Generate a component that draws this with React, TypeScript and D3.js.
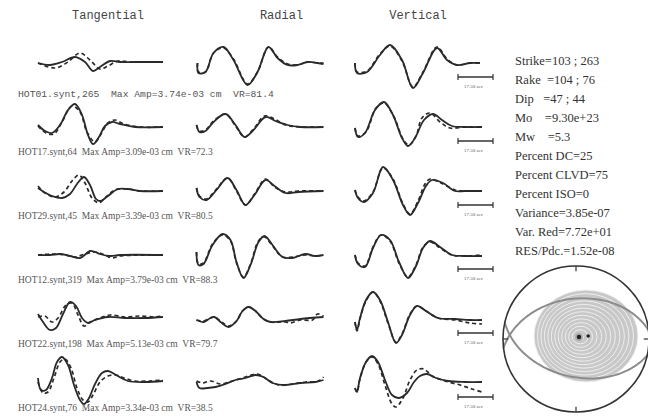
import React from 'react';
import * as d3 from 'd3';

type Pt = [number, number];

// ---- labels / metadata ----
const components = ['Tangential', 'Radial', 'Vertical'];
const stations = ['HOT01', 'HOT17', 'HOT29', 'HOT12', 'HOT22', 'HOT24'];
const azimuths = [265, 64, 45, 319, 198, 76];
const maxAmps = ['3.74e-03', '3.09e-03', '3.39e-03', '3.79e-03', '5.13e-03', '3.34e-03'];
const varReductions = [81.4, 72.3, 80.5, 88.3, 79.7, 38.5];
const scaleBarSec = 17.5;

const solutionLines = [
  'Strike=103 ; 263',
  'Rake  =104 ; 76',
  'Dip   =47 ; 44',
  'Mo    =9.30e+23',
  'Mw    =5.3',
  'Percent DC=25',
  'Percent CLVD=75',
  'Percent ISO=0',
  'Variance=3.85e-07',
  'Var. Red=7.72e+01',
  'RES/Pdc.=1.52e-08',
];

// nodal planes: [strike, dip]
const nodalPlanes: Pt[] = [[103, 47], [263, 44]];
// principal axes: [plunge, azimuth]
const axisPoints: Pt[] = [[86, 56], [76, 76]];
const shadeLevels = 13;

// ---- waveforms: [time s, amplitude] ----
// HOT01
const hot01TanObs: Pt[] = [[0, 0], [6, -0.2], [12, 0.1], [18.5, 0.6], [23.5, 0.1], [27.5, -0.8], [31, -0.4], [36, 0.2], [41, 0.1], [48.5, 0.1], [56, 0.1], [62.5, 0.1]];
const hot01TanSyn: Pt[] = [[0, 0], [8.5, -0.5], [15, 0.1], [21, 1.0], [26, 0.3], [31, -0.6], [35, -0.3], [40, 0.2], [46, 0.1], [53.5, 0.1], [62.5, 0.1]];
const hot01RadObs: Pt[] = [[0.5, 0], [1, -1.0], [4.5, -0.9], [8.5, 1.0], [13.5, 1.6], [18.5, 0.3], [25.5, -2.2], [30.5, -0.9], [36, 1.6], [40.5, 0.5], [45.5, -0.2], [50.5, -0.2], [55.5, 0.1], [60.5, 0], [63.5, -0.1]];
const hot01RadSyn: Pt[] = [[0.5, 0], [1, -0.9], [4.5, -0.9], [8.5, 1.0], [13.5, 1.5], [18.5, 0.4], [25.5, -2.1], [30.5, -0.9], [36, 1.6], [40.5, 0.6], [45.5, -0.1], [50.5, -0.2], [55.5, 0.1], [60.5, 0], [63.5, 0]];
const hot01VerObs: Pt[] = [[0, 0], [1, -1.0], [6, -0.9], [12.5, 0.8], [17.5, 1.8], [23.5, 0.3], [29, -2.5], [34, -1.0], [41, 1.5], [46, 0.3], [51, -0.2], [57.5, 0], [62.5, 0]];
const hot01VerSyn: Pt[] = [[0, 0], [1, -0.9], [6, -0.8], [12.5, 0.9], [17.5, 1.7], [23.5, 0.2], [29, -2.4], [34, -0.9], [41, 1.6], [46, 0.4], [51, -0.2], [57.5, 0], [62.5, 0]];
// HOT17
const hot17TanObs: Pt[] = [[0, 0.2], [3.5, -0.4], [7, -0.6], [11, 0.2], [15, 1.7], [18.5, 2.3], [22, 1.2], [25, -0.8], [27.5, -1.7], [30.5, -1.0], [33.5, 0.1], [37, 0.5], [41, 0.3], [48.5, 0], [62.5, 0]];
const hot17TanSyn: Pt[] = [[0, 0.1], [4, -0.6], [8, -0.7], [12, 0.5], [17, 2.1], [21, 1.5], [24.5, -0.5], [28.5, -1.5], [31.5, -0.7], [35, 0.4], [38.5, 0.7], [43, 0.3], [51, 0], [62.5, 0]];
const hot17RadObs: Pt[] = [[0, 0.2], [1.5, -0.5], [4.5, -0.4], [8.5, 0.5], [14.5, 1.3], [19.5, 0.2], [24, -1.0], [28.5, -0.3], [34.5, 1.0], [39.5, 0.6], [45.5, 0.2], [52, 0], [63.5, 0]];
const hot17RadSyn: Pt[] = [[0, 0.2], [1.5, -0.4], [4.5, -0.3], [8.5, 0.6], [14.5, 1.3], [19.5, 0.1], [24, -1.0], [28.5, -0.2], [34, 1.1], [39, 0.8], [44.5, 0.2], [52, 0], [63.5, 0]];
const hot17VerObs: Pt[] = [[0, -0.1], [1.5, -1.0], [5, -0.6], [10, 1.7], [14.5, 2.5], [19, 1.2], [23.5, -1.1], [26.5, -1.9], [30, -1.1], [34.5, 0.7], [39, 1.3], [43.5, 0.7], [48.5, 0.1], [55, 0], [63.5, 0]];
const hot17VerSyn: Pt[] = [[0, -0.1], [1.5, -0.9], [5.5, -0.5], [10.5, 1.9], [14.5, 2.4], [19.5, 1.0], [24, -1.2], [27, -1.8], [30.5, -0.9], [33.5, 0.9], [37.5, 1.4], [42.5, 0.5], [47.5, -0.1], [55, 0], [63.5, 0]];
// HOT29
const hot29TanObs: Pt[] = [[0, 0.3], [3, -0.1], [7, -0.5], [12, -0.7], [16, -0.3], [19.5, 0.7], [23, 1.4], [26, 0.6], [29, -0.8], [31, -1.0], [35, -0.5], [40, 0.2], [45, 0.2], [51, 0], [62.5, 0]];
const hot29TanSyn: Pt[] = [[0, 0.5], [3.5, -0.2], [8.5, -0.6], [13, -0.1], [17, 1.0], [20.5, 1.6], [23.5, 0.8], [27, -0.7], [30.5, -1.2], [34, -0.6], [38.5, 0.1], [45, 0.2], [51, 0], [62.5, 0]];
const hot29RadObs: Pt[] = [[0, 0.3], [1.5, -0.6], [5, -0.9], [10, 0.1], [15.5, 1.3], [20, 0.1], [24.5, -1.4], [29, -0.4], [34.5, 1.1], [39, 0.5], [44.5, -0.2], [51, -0.1], [63.5, 0]];
const hot29RadSyn: Pt[] = [[0, 0.3], [1.5, -0.5], [5, -0.8], [10, 0.2], [15.5, 1.3], [20, 0.0], [24.5, -1.4], [29, -0.3], [34.5, 1.2], [39, 0.4], [44.5, -0.1], [51, 0], [63.5, 0]];
const hot29VerObs: Pt[] = [[0, 0.1], [1.5, -0.7], [4.5, -1.1], [9, -0.2], [14, 2.4], [19, 1.1], [24, -1.4], [27.5, -2.4], [31.5, -1.2], [35.5, 0.5], [38.5, 1.1], [44, 0.8], [50, 0], [55, 0], [63.5, 0]];
const hot29VerSyn: Pt[] = [[0, 0.1], [1.5, -0.6], [4.5, -1.0], [9, -0.1], [14, 2.3], [19, 1.2], [24, -1.3], [27.5, -2.3], [31.5, -1.0], [35, 0.7], [37.5, 1.2], [43, 0.8], [50, 0.1], [55, 0], [63.5, 0]];
// HOT12
const hot12TanObs: Pt[] = [[0, 0], [6, 0], [11, 0.1], [16, -0.1], [21, -0.3], [26, 0.4], [28.5, 0.3], [31, 0.1], [36, -0.1], [41, 0], [62.5, 0]];
const hot12TanSyn: Pt[] = [[0, 0], [8.5, 0.1], [13.5, 0], [18.5, -0.2], [23.5, 0.1], [28.5, 0.3], [33.5, 0], [37, -0.3], [41, -0.1], [62.5, 0]];
const hot12RadObs: Pt[] = [[0, 0.3], [1, -1.0], [3.5, -0.9], [8, 1.0], [13, 2.1], [17, 1.5], [20, -0.7], [23.5, -2.3], [27, -1.0], [31, 1.3], [34, 1.9], [38, 1.0], [43, -0.2], [48, -0.3], [54.5, 0.1], [59.5, -0.1], [63.5, 0]];
const hot12RadSyn: Pt[] = [[0, 0.3], [1, -0.9], [3.5, -0.8], [8, 1.1], [13, 2.0], [17, 1.4], [20, -0.8], [23.5, -2.2], [27, -0.9], [31, 1.4], [34, 1.8], [38, 0.9], [43, -0.2], [48, -0.2], [54.5, 0], [59.5, -0.1], [63.5, 0]];
const hot12VerObs: Pt[] = [[0, 0], [1.5, -0.9], [5, -1.2], [9, 0.7], [13, 2.0], [17.5, 1.5], [22, -0.7], [26.5, -2.3], [30.5, -1.1], [34, 0.7], [37.5, 1.4], [42.5, 0.8], [48.5, 0], [55, -0.1], [63.5, -0.1]];
const hot12VerSyn: Pt[] = [[0, 0], [1.5, -0.8], [5, -1.1], [9, 0.8], [13, 2.0], [17.5, 1.4], [22, -0.8], [26.5, -2.2], [30.5, -1.0], [34, 0.8], [37.5, 1.3], [42.5, 0.7], [48.5, 0], [55, -0.1], [63.5, 0]];
// HOT22
const hot22TanObs: Pt[] = [[0, 0.5], [2.5, -0.3], [6, -1.1], [9, -0.9], [12.5, 0.5], [16, 1.7], [19, 1.3], [22, 0.1], [25, -0.4], [28.5, -0.1], [35, 0.2], [43.5, 0.1], [53.5, 0.1], [62.5, 0.2]];
const hot22TanSyn: Pt[] = [[0, 0.2], [3.5, 0.3], [7, -0.3], [10, 0.1], [14, 1.4], [17, 1.6], [20, 0.4], [23, -0.7], [26, -0.3], [31, 0.1], [36, 0.4], [43.5, 0.2], [51, 0.3], [58.5, 0.2], [62.5, 0.3]];
const hot22RadObs: Pt[] = [[0, -0.1], [3.5, -0.3], [7, 0.1], [9, 0.2], [12, -0.3], [16, -0.8], [20, -0.2], [23, 0.8], [26, 1.2], [29.5, 0.8], [33.5, 0], [37, -0.3], [44.5, -0.2], [52, 0], [63.5, 0.2]];
const hot22RadSyn: Pt[] = [[0, -0.1], [3.5, -0.2], [7, 0.1], [9, 0.2], [12, -0.2], [16, -0.7], [20, -0.2], [23, 0.8], [26, 1.2], [29.5, 0.8], [33.5, 0], [37, -0.3], [44.5, -0.3], [47, -0.4], [52, -0.1], [58, -0.1], [60.5, 0.5], [63.5, 0.3]];
const hot22VerObs: Pt[] = [[0, -0.3], [1, -1.1], [2.5, 0.1], [5.5, 1.9], [9, 2.7], [12.5, 1.9], [16.5, -0.3], [20.5, -2.4], [23.5, -1.6], [27.5, 0.4], [31, 1.3], [35.5, 0.8], [41.5, 0.1], [50, 0], [57.5, -0.1], [63.5, -0.1]];
const hot22VerSyn: Pt[] = [[0, -0.3], [1, -1.2], [2.5, 0.0], [5.5, 1.8], [9, 2.7], [12.5, 1.8], [16.5, -0.4], [20.5, -2.3], [23.5, -1.5], [27.5, 0.5], [31, 1.3], [35.5, 0.8], [41.5, 0.1], [50, -0.1], [57.5, -0.4], [63.5, -0.5]];
// HOT24
const hot24TanObs: Pt[] = [[0, 0.5], [1.5, -0.7], [4, -0.7], [7, 0.5], [9.5, 2.1], [12, 2.6], [15, 1.8], [18, -0.2], [21, -1.7], [23, -2.1], [25.5, -1.5], [28.5, -0.1], [32, 1.0], [35, 1.2], [39, 0.8], [45, 0.2], [53.5, 0.1], [62.5, 0.2]];
const hot24TanSyn: Pt[] = [[0, 0.1], [2.5, -1.0], [5, -0.9], [8, 0.5], [11, 2.1], [13.5, 2.4], [16.5, 1.5], [19.5, -0.5], [22.5, -1.7], [25, -1.9], [27.5, -1.2], [31, 0.1], [35, 0.7], [39, 0.8], [43, 0.5], [48.5, 0.2], [56, 0.2], [62.5, 0.3]];
const hot24RadObs: Pt[] = [[0, 0.1], [1.5, -0.5], [5.5, -0.5], [9.5, -0.4], [14.5, -0.1], [19.5, 0.3], [24.5, 0.5], [29.5, 0.8], [33.5, 0.6], [38, 0], [44.5, -0.2], [52, 0], [59.5, 0.1], [63.5, 0.3]];
const hot24RadSyn: Pt[] = [[0, 0.2], [3, 0], [7, 0.2], [12, -0.1], [18, 0.2], [24.5, 0.6], [30.5, 0.9], [35, 0.4], [41, -0.2], [48, -0.1], [54.5, 0.1], [61, 0.2], [63.5, 0.6]];
const hot24VerObs: Pt[] = [[0, -0.5], [1, -0.9], [2.5, 0.5], [5.5, 2.1], [8.5, 2.7], [11.5, 2.1], [15, 0.3], [18.5, -1.2], [22, -1.5], [26, -1.0], [29.5, 0.1], [32.5, 0.7], [36, 0.9], [40.5, 0.5], [46.5, 0.2], [55, 0.1], [63.5, 0.1]];
const hot24VerSyn: Pt[] = [[0, -0.5], [1, -0.9], [2.5, 0.4], [5.5, 2.1], [8.5, 2.6], [11.5, 1.9], [15, -0.2], [18.5, -2.1], [20.5, -2.4], [24, -1.5], [27.5, 0.3], [31, 1.3], [34.5, 1.4], [38.5, 0.7], [45, 0.2], [52.5, -0.2], [58.5, -0.6], [63.5, -0.9]];

const observed: Pt[][][] = [
  [hot01TanObs, hot01RadObs, hot01VerObs],
  [hot17TanObs, hot17RadObs, hot17VerObs],
  [hot29TanObs, hot29RadObs, hot29VerObs],
  [hot12TanObs, hot12RadObs, hot12VerObs],
  [hot22TanObs, hot22RadObs, hot22VerObs],
  [hot24TanObs, hot24RadObs, hot24VerObs],
];
const synthetic: Pt[][][] = [
  [hot01TanSyn, hot01RadSyn, hot01VerSyn],
  [hot17TanSyn, hot17RadSyn, hot17VerSyn],
  [hot29TanSyn, hot29RadSyn, hot29VerSyn],
  [hot12TanSyn, hot12RadSyn, hot12VerSyn],
  [hot22TanSyn, hot22RadSyn, hot22VerSyn],
  [hot24TanSyn, hot24RadSyn, hot24VerSyn],
];

const W = 648;
const H = 419;
const MONO = '"Liberation Mono", "DejaVu Sans Mono", monospace';
const SERIF = '"Liberation Serif", "DejaVu Serif", serif';
const INK = '#2a2a2a';

export default function App() {
  const colX = d3.scaleLinear().domain([0, 2]).range([38, 355]);
  const rowY = d3.scaleLinear().domain([0, 5]).range([63, 383]);
  const t = d3.scaleLinear().domain([0, 63.5]).range([0, 127]);
  const amp = d3.scaleLinear().domain([-1, 1]).range([10, -10]);

  const line = d3
    .line<Pt>()
    .x((d) => t(d[0]))
    .y((d) => amp(d[1]))
    .curve(d3.curveCatmullRom.alpha(0.5));

  // focal sphere (lower hemisphere, equal-area)
  const bb = { cx: 576, cy: 339, r: 73 };
  const rad = Math.PI / 180;
  const project = (plunge: number, az: number): Pt => {
    const rr = bb.r * Math.SQRT2 * Math.sin(((90 - plunge) * rad) / 2);
    return [bb.cx + rr * Math.sin(az * rad), bb.cy - rr * Math.cos(az * rad)];
  };
  const planePath = (strike: number, dip: number) => {
    const s = strike * rad;
    const dd = (strike + 90) * rad;
    const dp = dip * rad;
    const sv = [Math.cos(s), Math.sin(s), 0];
    const dv = [Math.cos(dd) * Math.cos(dp), Math.sin(dd) * Math.cos(dp), Math.sin(dp)];
    const pts: Pt[] = d3.range(0, 181, 2).map((deg) => {
      const th = deg * rad;
      const n = Math.cos(th) * sv[0] + Math.sin(th) * dv[0];
      const e = Math.cos(th) * sv[1] + Math.sin(th) * dv[1];
      const dn = Math.cos(th) * sv[2] + Math.sin(th) * dv[2];
      const plunge = Math.asin(Math.min(1, Math.max(0, dn))) / rad;
      const az = Math.atan2(e, n) / rad;
      return project(plunge, az);
    });
    return d3.line<Pt>()(pts) || '';
  };
  const tAxis = project(axisPoints[0][0], axisPoints[0][1]);
  const shadeOuter = { cx: 586, cy: 336, rx: 52, ry: 46 };
  const rings = d3.range(shadeLevels, 0, -1).map((i) => {
    const f = i / shadeLevels;
    return {
      cx: tAxis[0] + (shadeOuter.cx - tAxis[0]) * f,
      cy: tAxis[1] + (shadeOuter.cy - tAxis[1]) * f,
      rx: shadeOuter.rx * f,
      ry: shadeOuter.ry * f,
    };
  });

  const barLen = t(scaleBarSec) - t(0);

  return (
    <svg
      width={W}
      height={H}
      style={{ position: 'absolute', left: 0, top: 0, background: '#fff' }}
    >
      <rect width={W} height={H} fill="#fff" />
      {components.map((c, j) => (
        <text
          key={c}
          x={colX(j) + [70, 85, 63][j]}
          y={19}
          textAnchor="middle"
          fontFamily={MONO}
          fontSize={12}
          fill="#444"
        >
          {c}
        </text>
      ))}

      {stations.map((st, i) => {
        const y0 = rowY(i);
        const label = `${st}.synt,${azimuths[i]}  Max Amp=${maxAmps[i]} cm  VR=${varReductions[i].toFixed(1)}`;
        return (
          <g key={st}>
            {components.map((c, j) => (
              <g key={c} transform={`translate(${colX(j)},${y0})`}>
                <path
                  d={line(observed[i][j]) || ''}
                  fill="none"
                  stroke={INK}
                  strokeWidth={1.8}
                  strokeLinejoin="round"
                />
                <path
                  d={line(synthetic[i][j]) || ''}
                  fill="none"
                  stroke={INK}
                  strokeWidth={1.7}
                  strokeDasharray="4 3"
                />
              </g>
            ))}
            <text
              x={18}
              y={y0 + (i === 0 ? 34 : 28)}
              fontFamily={i === 0 ? MONO : SERIF}
              fontSize={i === 0 ? 9.7 : 9.5}
              fill="#555"
              style={{ whiteSpace: 'pre' }}
            >
              {label}
            </text>
            <g transform={`translate(${colX(2) + 103},${y0 + 14})`} stroke="#333">
              <line x1={0} x2={barLen} y1={0} y2={0} strokeWidth={1.6} />
              <line x1={0} x2={0} y1={-3} y2={3} strokeWidth={1.2} />
              <line x1={barLen} x2={barLen} y1={-3} y2={3} strokeWidth={1.2} />
              <text
                x={barLen / 2 - 2}
                y={11}
                textAnchor="middle"
                fontFamily={SERIF}
                fontSize={5}
                fill="#555"
                stroke="none"
              >
                {`${scaleBarSec.toFixed(2)} sec`}
              </text>
            </g>
          </g>
        );
      })}

      {solutionLines.map((s, k) => (
        <text
          key={s}
          x={515}
          y={64.5 + k * 19}
          fontFamily={SERIF}
          fontSize={12.5}
          fill="#333"
          style={{ whiteSpace: 'pre' }}
        >
          {s}
        </text>
      ))}

      <g>
        {rings.map((r, k) => (
          <ellipse
            key={k}
            cx={r.cx}
            cy={r.cy}
            rx={r.rx}
            ry={r.ry}
            fill="#c8c8c8"
            stroke="#f2f2f2"
            strokeWidth={0.9}
          />
        ))}
        {nodalPlanes.map(([s, dp], k) => (
          <path key={k} d={planePath(s, dp)} fill="none" stroke="#8c8c8c" strokeWidth={2} />
        ))}
        <circle cx={bb.cx} cy={bb.cy} r={bb.r} fill="none" stroke="#333" strokeWidth={1.6} />
        {[0, 90, 180, 270].map((a) => {
          const [x, y] = project(0, a);
          const [x2, y2] = project(8, a);
          return <line key={a} x1={x} y1={y} x2={x2} y2={y2} stroke="#333" strokeWidth={1.2} />;
        })}
        {axisPoints.map(([pl, az], k) => {
          const [x, y] = project(pl, az);
          return (
            <g key={k}>
              {k === 0 && <circle cx={x} cy={y} r={4} fill="#aaa" />}
              <circle cx={x} cy={y} r={k === 0 ? 2.2 : 1.8} fill="#222" />
            </g>
          );
        })}
      </g>
    </svg>
  );
}
